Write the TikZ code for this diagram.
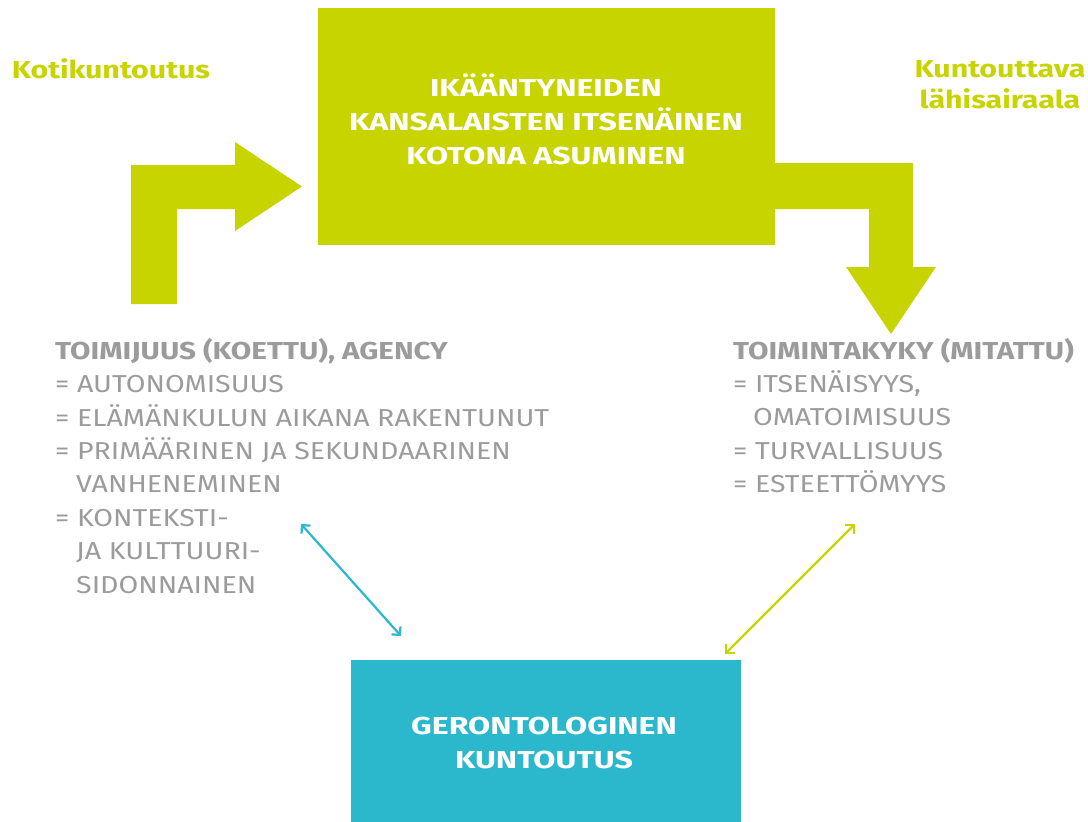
\documentclass[tikz,border=0pt]{standalone}
\usepackage{fontspec}
\setmainfont{Fira Sans}
\newfontfamily\bodyfont[FakeStretch=1.165]{Fira Sans}
\newfontfamily\headfont[FakeStretch=1.21]{Fira Sans}
\newfontfamily\lblfont[FakeStretch=1.24]{Fira Sans}
\newfontfamily\boxfont[FakeStretch=1.31]{Fira Sans}
\usetikzlibrary{arrows.meta}
\definecolor{lime}{HTML}{C8D400}
\definecolor{teal}{HTML}{2BB8CC}
\definecolor{txtgray}{HTML}{9B9B9B}
\tikzset{
  box/.style={inner sep=0pt},
  boxtext/.style={inner sep=0pt, align=center, text=white, anchor=base, font=\boxfont\fontsize{24.5}{33.7}\selectfont\bfseries},
  blockarrow/.style={fill=lime, draw=none},
  lbl/.style={inner sep=0pt, text=lime, font=\lblfont\fontsize{24.5}{31}\selectfont\bfseries, align=center, anchor=base},
  body/.style={inner sep=0pt, anchor=base west, align=left, text=txtgray, font=\bodyfont\fontsize{24.5}{33.4}\selectfont},
  dbl/.style={line width=2.2pt, {Straight Barb[length=6pt,width=12pt]}-{Straight Barb[length=6pt,width=12pt]}}
}
\newcommand{\hd}[1]{{\headfont\bfseries #1}}
\begin{document}
\begin{tikzpicture}[x=1pt,y=-1pt]
\useasboundingbox (0,0) rectangle (1088,822);
% top box
\node[box, fill=lime, minimum width=457pt, minimum height=237pt] (top) at (546.5,126.5) {};
\node[boxtext] (toptext) at (546,164)
  {IKÄÄNTYNEIDEN\\KANSALAISTEN ITSENÄINEN\\KOTONA ASUMINEN};
% bottom box
\node[box, fill=teal, minimum width=390pt, minimum height=162pt] (bot) at (546,741) {};
\node[boxtext] (bottext) at (544,768) {GERONTOLOGINEN\\KUNTOUTUS};
% left block arrow
\fill[blockarrow] (131,304) -- (131,165) -- (235,165) -- (235,142) -- (302,186.5)
  -- (235,231) -- (235,209) -- (177,209) -- (177,304) -- cycle;
% right block arrow
\fill[blockarrow] (774,163) -- (913,163) -- (913,267) -- (936,267) -- (891,334)
  -- (846,267) -- (869,267) -- (869,209) -- (774,209) -- cycle;
% labels
\node[lbl] (koti) at (111,78) {Kotikuntoutus};
\node[lbl] (kunt) at (1000,108) {Kuntouttava\\lähisairaala};
% left text
\node[body] (left) at (55,593) {\hd{TOIMIJUUS (KOETTU), AGENCY}\\
= AUTONOMISUUS\\
= ELÄMÄNKULUN AIKANA RAKENTUNUT\\
= PRIMÄÄRINEN JA SEKUNDAARINEN\\
\hspace*{21pt}VANHENEMINEN\\
= KONTEKSTI-\\
\hspace*{21pt}JA KULTTUURI-\\
\hspace*{21pt}SIDONNAINEN};
% right text
\node[body] (right) at (733,492.6) {\hd{TOIMINTAKYKY (MITATTU)}\\
= ITSENÄISYYS,\\
\hspace*{20pt}OMATOIMISUUS\\
= TURVALLISUUS\\
= ESTEETTÖMYYS};
% double arrows
\coordinate (c1) at (301,524);
\coordinate (c2) at (401,636);
\coordinate (g1) at (855,524);
\coordinate (g2) at (725,654);
\draw[dbl, teal] (c1) -- (c2);
\draw[dbl, lime] (g1) -- (g2);
\end{tikzpicture}
\end{document}
